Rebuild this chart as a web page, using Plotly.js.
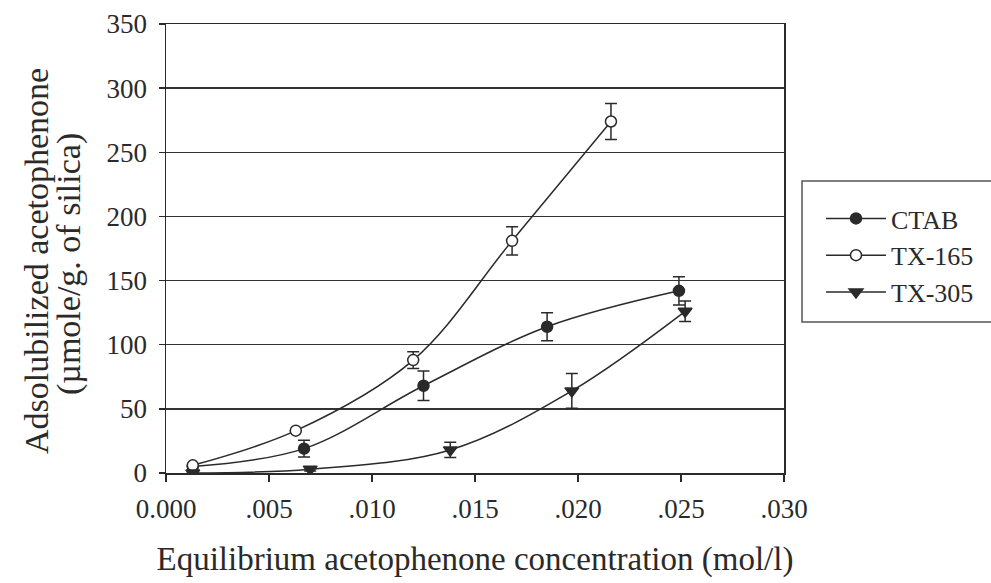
<!DOCTYPE html>
<html>
<head>
<meta charset="utf-8">
<script src="https://cdn.plot.ly/plotly-3.0.1.min.js"></script>
<style>html,body{margin:0;padding:0;background:#fff;}#chart{width:991px;height:583px;}</style>
</head>
<body>
<div id="chart"></div>
<script>
// ---- data ----
const seriesNames = ["CTAB", "TX-165", "TX-305"];
const xCTAB  = [0.0013, 0.0067, 0.0125, 0.0185, 0.0249];
const yCTAB  = [5, 19, 68, 114, 142];
const eCTAB  = [0, 6.5, 11.5, 11, 11];
const xTX165 = [0.0013, 0.0063, 0.0120, 0.0168, 0.0216];
const yTX165 = [6, 33, 88, 181, 274];
const eTX165 = [0, 0, 6.5, 11, 14];
const xTX305 = [0.0013, 0.0070, 0.0138, 0.0197, 0.0252];
const yTX305 = [0, 3, 18, 64, 126];
const eTX305 = [0, 1.5, 6, 13.5, 8];
const xTickVals = [0, 0.005, 0.010, 0.015, 0.020, 0.025, 0.030];
const xTickText = ["0.000", ".005", ".010", ".015", ".020", ".025", ".030"];
const yTickVals = [0, 50, 100, 150, 200, 250, 300, 350];
const xTitle = "Equilibrium acetophenone concentration (mol/l)";
const yTitle1 = "Adsolubilized acetophenone";
const yTitle2 = "(µmole/g. of silica)";

// ---- style ----
const INK = "#2a2a2a";
const FONT = "Liberation Serif, Times New Roman, serif";
const W = 991, H = 583;
const M = {l: 166, r: 207, t: 24, b: 110};
const pw = W - M.l - M.r, ph = H - M.t - M.b;
const px2x = p => (p - M.l) / pw;
const px2y = p => (H - M.b - p) / ph;

function mk(name, x, y, e, symbol, fill) {
  return {
    type: "scatter", mode: "lines+markers", name: name, x: x, y: y,
    line: {shape: "spline", smoothing: 1, color: INK, width: 1.5},
    marker: {symbol: symbol, size: symbol === "triangle-down" ? 12 : 11, color: fill,
             line: {color: INK, width: 1.5}},
    error_y: {type: "data", array: e, visible: true, color: INK, thickness: 1.5, width: 6}
  };
}

const data = [
  mk(seriesNames[0], xCTAB, yCTAB, eCTAB, "circle", INK),
  mk(seriesNames[1], xTX165, yTX165, eTX165, "circle", "#ffffff"),
  mk(seriesNames[2], xTX305, yTX305, eTX305, "triangle-down", INK)
];

const layout = {
  width: W, height: H,
  margin: M,
  paper_bgcolor: "#fff", plot_bgcolor: "#fff",
  font: {family: FONT, size: 27, color: INK},
  showlegend: true,
  legend: {
    x: px2x(821), y: px2y(195), xanchor: "left", yanchor: "top",
    bgcolor: "rgba(0,0,0,0)", borderwidth: 0,
    font: {family: FONT, size: 26, color: INK},
    itemwidth: 60
  },
  xaxis: {
    range: [0, 0.030], tickmode: "array", tickvals: xTickVals, ticktext: xTickText,
    showgrid: false, zeroline: false,
    showline: true, linecolor: INK, linewidth: 1.5, mirror: true,
    ticks: "outside", ticklen: 7, tickwidth: 1.5, tickcolor: INK,
    ticklabelstandoff: 4,
    tickfont: {family: FONT, size: 27, color: INK},
    title: {text: xTitle, font: {family: FONT, size: 33, color: INK}, standoff: 24}
  },
  yaxis: {
    range: [0, 350], tickmode: "array", tickvals: yTickVals,
    showgrid: true, gridcolor: "#333", gridwidth: 1.4, zeroline: false,
    showline: true, linecolor: INK, linewidth: 1.5, mirror: true,
    ticks: "outside", ticklen: 6, tickwidth: 1.5, tickcolor: INK,
    ticklabelstandoff: 6,
    tickfont: {family: FONT, size: 27, color: INK}
  },
  shapes: [{
    type: "rect", xref: "paper", yref: "paper",
    x0: px2x(802), x1: px2x(1010), y0: px2y(322), y1: px2y(181),
    line: {color: "#555", width: 1.5}, fillcolor: "rgba(0,0,0,0)", layer: "below"
  }],
  annotations: [
    {text: yTitle1, xref: "paper", yref: "paper", x: px2x(36), y: px2y(261),
     xanchor: "center", yanchor: "middle", textangle: -90, showarrow: false,
     font: {family: FONT, size: 34, color: INK}},
    {text: yTitle2, xref: "paper", yref: "paper", x: px2x(69), y: px2y(264),
     xanchor: "center", yanchor: "middle", textangle: -90, showarrow: false,
     font: {family: FONT, size: 34, color: INK}}
  ]
};

Plotly.newPlot("chart", data, layout, {staticPlot: true, displayModeBar: false});
</script>
</body>
</html>
